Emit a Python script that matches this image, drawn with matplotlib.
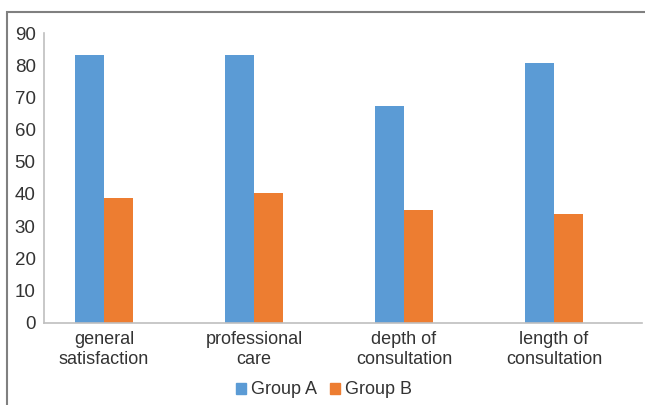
import numpy as np
import matplotlib
matplotlib.use("Agg")
import matplotlib.pyplot as plt
from matplotlib.patches import Rectangle, Patch

categories = ["general\nsatisfaction", "professional\ncare", "depth of\nconsultation", "length of\nconsultation"]
group_a = [83.2, 83.2, 67.2, 80.6]
group_b = [38.7, 40.3, 35.0, 33.7]
y_ticks = [0, 10, 20, 30, 40, 50, 60, 70, 80, 90]

plt.rcParams['font.family'] = ['Liberation Sans', 'DejaVu Sans']

fig = plt.figure(figsize=(6.45, 4.05), dpi=100)
ax = fig.add_axes([44 / 645, 1 - 322.7 / 405, (642 - 44) / 645, (322.7 - 33) / 405])

x = np.arange(len(categories))
w = 0.193
ax.bar(x - w / 2, group_a, w, color="#5B9BD5", label="Group A")
ax.bar(x + w / 2, group_b, w, color="#ED7D31", label="Group B")

ax.set_ylim(0, 90)
ax.set_xlim(-0.4, 3.587)
ax.set_yticks(y_ticks)
ax.set_xticks(x)
ax.set_xticklabels(categories, fontsize=13, color="#333333", linespacing=1.2)
ax.tick_params(axis="y", labelsize=13.5, colors="#333333", length=0, pad=6)
ax.tick_params(axis="x", length=0, pad=6)
for s in ["top", "right"]:
    ax.spines[s].set_visible(False)
for s in ["left", "bottom"]:
    ax.spines[s].set_color("#bfbfbf")
    ax.spines[s].set_linewidth(1.2)

handles = [Patch(color="#5B9BD5"), Patch(color="#ED7D31")]
fig.legend(handles, ["Group A", "Group B"], loc="center", bbox_to_anchor=(324 / 645, 1 - 390 / 405),
           ncol=2, frameon=False, fontsize=13, handlelength=0.55, handleheight=0.55,
           handletextpad=0.3, columnspacing=0.7, labelcolor="#333333")

# outer chart frame (cropped at right and bottom)
fig.patches.append(Rectangle((7 / 645, -0.1), 1.2, 1 - 12 / 405 + 0.1, transform=fig.transFigure,
                             fill=False, edgecolor="#808080", linewidth=1.5))

fig.savefig("out.png", dpi=100)
